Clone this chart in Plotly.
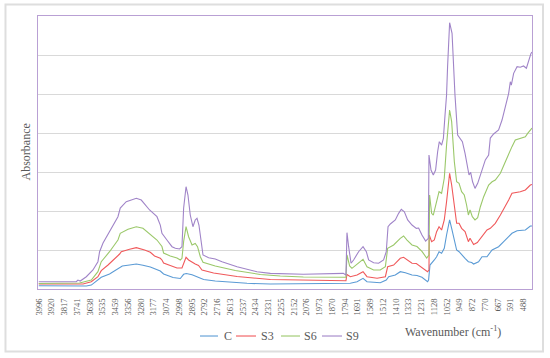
import plotly.graph_objects as go

# Category-axis tick labels (wavenumber, cm-1); label k sits at category position k
wavenumber_labels = ["3996", "3920", "3817", "3741", "3638", "3535", "3459", "3356", "3280", "3177",
                     "3074", "2998", "2895", "2792", "2716", "2613", "2537", "2434", "2331", "2255",
                     "2152", "2076", "1973", "1870", "1794", "1691", "1589", "1512", "1410", "1333",
                     "1231", "1128", "1052", "949", "872", "770", "667", "591", "488"]

# Series: position along the category axis and absorbance (arbitrary units)
c_x = [0, 3.73, 4.12, 4.64, 4.90, 5.55, 6.34, 6.55, 7.12, 7.65, 8.17, 8.75, 9.53, 9.79, 10.53, 11.10,
       11.36, 11.57, 12.02, 12.53, 12.93, 13.84, 14.47, 16.33, 18.16, 20.75, 23.88, 24.09, 24.43, 24.96,
       25.43, 25.74, 26.78, 27.25, 27.44, 27.96, 28.35, 28.75, 29.27, 29.66, 30.05, 30.49, 30.57, 30.68,
       30.81, 31.02, 31.20, 31.39, 31.59, 31.80, 31.98, 32.22, 32.38, 32.59, 32.77, 32.96, 33.16, 33.43,
       33.69, 33.95, 34.10, 34.49, 34.76, 35.15, 35.55, 36.06, 36.46, 36.85, 37.11, 37.51, 37.90, 38.16,
       38.55, 38.68]
c_y = [0.085, 0.077, 0.10, 0.23, 0.30, 0.385, 0.556, 0.59, 0.615, 0.64, 0.61, 0.564, 0.46, 0.385, 0.295, 0.27,
       0.377, 0.397, 0.364, 0.308, 0.244, 0.205, 0.187, 0.146, 0.128, 0.128, 0.128, 0.128, 0.146, 0.187,
       0.274, 0.187, 0.16, 0.23, 0.315, 0.36, 0.444, 0.418, 0.36, 0.346, 0.30, 0.187, 0.23, 0.615,
       0.66, 0.744, 0.828, 0.956, 0.915, 1.044, 1.385, 1.77, 1.556, 1.213, 1.0, 0.956, 0.872, 0.787,
       0.70, 0.68, 0.64, 0.70, 0.828, 0.828, 1.0, 1.085, 1.213, 1.34, 1.428, 1.495, 1.495, 1.513,
       1.615, 1.615]

s3_x = [0, 3.47, 4.12, 4.64, 4.90, 5.43, 6.34, 6.47, 7.12, 7.65, 8.30, 8.75, 9.08, 9.53, 9.66, 9.79,
        10.31, 10.84, 11.23, 11.55, 11.75, 12.02, 12.27, 12.53, 12.80, 13.71, 15.55, 18.16, 20.75, 23.88,
        24.09, 24.17, 24.43, 24.96, 25.43, 25.74, 26.53, 27.18, 27.36, 27.83, 28.35, 28.61, 28.93, 29.27,
        29.61, 29.76, 30.05, 30.49, 30.60, 30.62, 30.81, 31.02, 31.20, 31.39, 31.59, 31.80, 31.98, 32.22,
        32.38, 32.59, 32.77, 32.96, 33.16, 33.43, 33.69, 33.82, 34.10, 34.39, 34.76, 35.15, 35.41, 35.80,
        36.20, 36.59, 36.85, 37.11, 37.37, 37.76, 38.16, 38.55, 38.68]
s3_y = [0.128, 0.128, 0.187, 0.315, 0.47, 0.615, 0.897, 0.956, 1.018, 1.06, 1.0, 0.94, 0.846, 0.787, 0.744, 0.667,
        0.603, 0.54, 0.54, 0.813, 0.744, 0.685, 0.64, 0.603, 0.487, 0.41, 0.32, 0.244, 0.23, 0.213,
        0.213, 0.372, 0.315, 0.36, 0.444, 0.315, 0.274, 0.315, 0.57, 0.615, 0.787, 0.813, 0.744, 0.66,
        0.654, 0.615, 0.551, 0.444, 0.487, 1.385, 1.213, 1.256, 1.47, 1.597, 1.513, 1.77, 2.238, 2.967,
        2.667, 2.07, 1.685, 1.685, 1.556, 1.47, 1.213, 1.30, 1.141, 1.192, 1.34, 1.513, 1.556, 1.685,
        1.897, 2.11, 2.28, 2.454, 2.47, 2.495, 2.54, 2.667, 2.68]

s6_x = [0, 3.20, 4.12, 4.64, 4.90, 5.55, 6.21, 6.39, 7.00, 7.65, 8.17, 8.75, 9.27, 9.66, 9.79, 10.31,
        10.84, 11.10, 11.23, 11.36, 11.55, 11.75, 12.02, 12.27, 12.45, 12.67, 12.88, 13.84, 15.41, 17.37,
        18.94, 20.75, 23.88, 24.09, 24.17, 24.38, 24.56, 24.96, 25.43, 25.74, 26.26, 26.78, 27.18, 27.36,
        27.83, 28.35, 28.61, 28.88, 29.27, 29.66, 30.05, 30.42, 30.60, 30.65, 30.81, 30.94, 31.20, 31.39,
        31.59, 31.80, 31.98, 32.22, 32.38, 32.59, 32.77, 32.96, 33.16, 33.37, 33.55, 33.69, 33.82, 34.00,
        34.21, 34.42, 34.63, 34.89, 35.28, 35.55, 35.80, 36.20, 36.59, 36.85, 37.11, 37.37, 37.76, 38.16,
        38.34, 38.60, 38.68]
s6_y = [0.14, 0.154, 0.23, 0.444, 0.70, 0.956, 1.256, 1.428, 1.53, 1.597, 1.556, 1.40, 1.256, 1.09, 0.923, 0.846,
        0.795, 0.744, 0.787, 1.213, 1.60, 1.34, 1.128, 1.167, 1.085, 0.828, 0.685, 0.59, 0.474, 0.372,
        0.333, 0.308, 0.295, 0.30, 0.872, 0.59, 0.53, 0.64, 0.76, 0.57, 0.487, 0.487, 0.57, 1.044,
        1.128, 1.30, 1.36, 1.256, 1.128, 1.09, 0.962, 0.795, 0.872, 2.41, 1.94, 1.897, 2.238, 2.495,
        2.454, 2.84, 3.69, 4.59, 4.29, 3.264, 2.75, 2.71, 2.495, 2.41, 2.154, 1.897, 2.026, 1.854,
        1.77, 1.828, 2.11, 2.367, 2.667, 2.75, 2.795, 2.967, 3.264, 3.48, 3.65, 3.82, 3.864, 3.905,
        3.99, 4.12, 4.128]

s9_x = [0, 2.94, 3.07, 3.25, 3.73, 4.25, 4.64, 4.77, 5.04, 5.55, 6.21, 6.39, 6.86, 7.65, 8.04, 8.69,
        9.27, 9.53, 9.66, 10.05, 10.45, 10.71, 11.04, 11.23, 11.36, 11.55, 11.70, 11.88, 12.09, 12.27,
        12.41, 12.56, 12.72, 12.88, 13.32, 13.84, 14.37, 15.55, 17.11, 18.16, 20.75, 22.08, 23.88, 24.09,
        24.17, 24.30, 24.49, 24.69, 25.08, 25.43, 25.69, 25.87, 26.26, 26.65, 27.04, 27.25, 27.39, 27.57,
        27.96, 28.22, 28.43, 28.67, 28.93, 29.27, 29.61, 29.79, 30.05, 30.34, 30.55, 30.60, 30.76, 30.94,
        31.12, 31.28, 31.41, 31.59, 31.73, 31.86, 31.98, 32.06, 32.22, 32.41, 32.64, 32.85, 33.04, 33.22,
        33.43, 33.63, 33.74, 33.87, 34.02, 34.21, 34.42, 34.76, 35.02, 35.28, 35.41, 35.67, 36.06, 36.33,
        36.59, 36.85, 36.98, 37.06, 37.24, 37.51, 37.76, 38.02, 38.24, 38.42, 38.60, 38.68]
s9_y = [0.187, 0.187, 0.23, 0.205, 0.315, 0.487, 0.70, 0.956, 1.18, 1.47, 1.854, 2.077, 2.238, 2.326, 2.28, 2.026,
        1.854, 1.64, 1.428, 1.256, 1.085, 1.044, 1.026, 1.085, 2.07, 2.623, 2.41, 1.897, 1.597, 1.77,
        1.813, 1.64, 1.213, 0.872, 0.80, 0.77, 0.70, 0.57, 0.444, 0.40, 0.377, 0.385, 0.40, 0.36,
        1.444, 1.085, 0.66, 0.744, 0.956, 1.085, 0.956, 0.744, 0.674, 0.66, 0.744, 0.956, 1.597, 1.667,
        1.77, 1.94, 2.044, 1.98, 1.77, 1.64, 1.556, 1.564, 1.385, 1.23, 1.30, 3.436, 3.05, 2.923,
        3.05, 3.52, 3.777, 3.69, 3.864, 4.46, 4.974, 5.70, 6.828, 6.556, 4.974, 3.95, 3.864, 3.777,
        3.48, 3.136, 2.923, 2.99, 2.75, 2.58, 2.71, 3.05, 3.31, 3.436, 3.87, 3.974, 4.077, 4.333,
        4.674, 5.018, 5.315, 5.23, 5.53, 5.70, 5.685, 5.718, 5.66, 5.87, 6.04, 6.077]

series_names = ["C", "S3", "S6", "S9"]
series_colors = ["#5b9bd5", "#f0595b", "#9bc86a", "#a084c8"]
series_x = [c_x, s3_x, s6_x, s9_x]
series_y = [c_y, s3_y, s6_y, s9_y]

FONT = "Liberation Serif, Times New Roman, serif"
GREY = "#595959"

fig = go.Figure()
for name, xs, ys, col in zip(series_names, series_x, series_y, series_colors):
    fig.add_trace(go.Scatter(x=xs, y=ys, mode="lines", name=name, showlegend=False,
                             line=dict(color=col, width=1.1)))

# legend drawn as short line samples + labels (Excel-style compact legend)
legend_line_x = [(0.3279, 0.3644), (0.4008, 0.4413), (0.4919, 0.5304), (0.5749, 0.6154)]
legend_text_x = [0.3725, 0.4474, 0.5344, 0.6194]
LEG_Y = -0.1722

shapes = [dict(type="rect", xref="paper", yref="paper", x0=-0.0658, x1=1.0223, y0=-0.2289, y1=1.0421,
               line=dict(color="#dedede", width=2), fillcolor="rgba(0,0,0,0)", layer="below")]
annotations = [
    dict(text="Absorbance", xref="paper", yref="paper", x=-0.0263, y=0.5,
         xanchor="center", yanchor="middle", textangle=-90, showarrow=False,
         font=dict(family=FONT, size=12, color=GREY)),
    dict(text="Wavenumber (cm<sup>-1</sup>)", xref="paper", yref="paper", x=0.841, y=-0.1575,
         xanchor="center", yanchor="middle", showarrow=False,
         font=dict(family=FONT, size=12, color=GREY)),
]
for name, col, (lx0, lx1), tx in zip(series_names, series_colors, legend_line_x, legend_text_x):
    shapes.append(dict(type="line", xref="paper", yref="paper", x0=lx0, x1=lx1, y0=LEG_Y, y1=LEG_Y,
                       line=dict(color=col, width=1.1)))
    annotations.append(dict(text=name, xref="paper", yref="paper", x=tx, y=LEG_Y,
                            xanchor="left", yanchor="middle", showarrow=False,
                            font=dict(family=FONT, size=12, color=GREY)))

# pad 3-digit labels so that all labels start at the same baseline like the original
ticktext = [("\u2007" + t) if len(t) == 3 else t for t in wavenumber_labels]

fig.update_layout(
    width=550, height=358,
    margin=dict(l=38, r=18, t=16, b=69, autoexpand=False),
    paper_bgcolor="white", plot_bgcolor="white",
    font=dict(family=FONT, color=GREY, size=12),
    showlegend=False,
    xaxis=dict(range=[-0.06, 38.68], tickmode="array",
               tickvals=list(range(len(wavenumber_labels))), ticktext=ticktext,
               tickangle=-90, tickfont=dict(family=FONT, size=8.5, color=GREY),
               ticks="", showgrid=False, zeroline=False, automargin=False,
               showline=True, mirror=True, linecolor="#b9a0d4", linewidth=1.3,
               ticklabelstandoff=5),
    yaxis=dict(range=[0, 7], dtick=1, tick0=0, showticklabels=False, ticks="",
               showgrid=True, gridcolor="#d9d9d9", gridwidth=1, zeroline=False, automargin=False,
               showline=True, mirror=True, linecolor="#b9a0d4", linewidth=1.3),
    annotations=annotations,
    shapes=shapes,
)

fig.write_html("out.html", config={"displayModeBar": False},
               post_script="document.body.style.margin='0';document.body.style.padding='0';")
